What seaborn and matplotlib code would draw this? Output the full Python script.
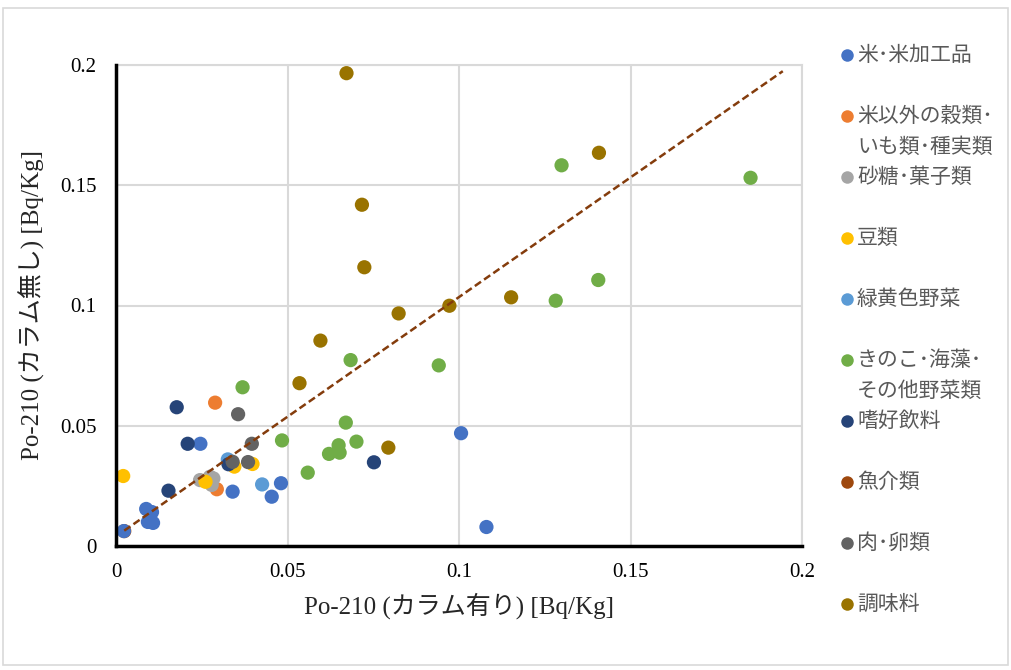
import numpy as np
import pandas as pd
import matplotlib
matplotlib.use("Agg")
import matplotlib.pyplot as plt
from matplotlib.lines import Line2D
from matplotlib.patches import Rectangle
import seaborn as sns

# Food groups, in legend order
categories = [
    "米･米加工品",
    "米以外の穀類･\nいも類･種実類",
    "砂糖･菓子類",
    "豆類",
    "緑黄色野菜",
    "きのこ･海藻･\nその他野菜類",
    "嗜好飲料",
    "魚介類",
    "肉･卵類",
    "調味料",
]
colors = ["#4472C4", "#ED7D31", "#A5A5A5", "#FFC000", "#5B9BD5",
          "#70AD47", "#264478", "#9E480E", "#636363", "#997300"]

# Po-210 with column (x) / without column (y), Bq/Kg
rice_x = [0.0023, 0.0088, 0.0105, 0.0093, 0.0108, 0.0246, 0.0340, 0.0481, 0.0454, 0.1006, 0.1080]
rice_y = [0.0062, 0.0154, 0.0141, 0.0100, 0.0096, 0.0425, 0.0226, 0.0261, 0.0205, 0.0469, 0.0079]
grain_x = [0.0289, 0.0294]
grain_y = [0.0596, 0.0236]
sugar_x = [0.0245, 0.0274, 0.0279, 0.0284]
sugar_y = [0.0274, 0.0288, 0.0254, 0.0281]
bean_x = [0.0021, 0.0261, 0.0345, 0.0398]
bean_y = [0.0291, 0.0267, 0.0330, 0.0341]
gyveg_x = [0.0326, 0.0426]
gyveg_y = [0.0360, 0.0256]
veg_x = [0.0369, 0.0484, 0.0559, 0.0684, 0.0941, 0.0670, 0.0701, 0.0649, 0.0621, 0.0652,
         0.1299, 0.1406, 0.1282, 0.1850]
veg_y = [0.0660, 0.0439, 0.0305, 0.0773, 0.0751, 0.0513, 0.0434, 0.0419, 0.0383, 0.0388,
         0.1583, 0.1106, 0.1020, 0.1531]
drink_x = [0.0177, 0.0209, 0.0328, 0.0153, 0.0752]
drink_y = [0.0577, 0.0425, 0.0340, 0.0230, 0.0348]
fish_x = [0.0024]
fish_y = [0.0062]
meat_x = [0.0356, 0.0396, 0.0340, 0.0385]
meat_y = [0.0548, 0.0425, 0.0350, 0.0349]
season_x = [0.0672, 0.0717, 0.0724, 0.0824, 0.0972, 0.0596, 0.0535, 0.0794, 0.1152, 0.1408]
season_y = [0.1966, 0.1419, 0.1159, 0.0967, 0.0999, 0.0854, 0.0677, 0.0409, 0.1034, 0.1635]

# Linear trend line
trend_slope = 0.995
trend_intercept = 0.004
trend_x_range = [0.0024, 0.1944]

# Axis ticks
ticks = [0, 0.05, 0.1, 0.15, 0.2]
tick_labels = ["0", "0.05", "0.1", "0.15", "0.2"]

series_x = [rice_x, grain_x, sugar_x, bean_x, gyveg_x, veg_x, drink_x, fish_x, meat_x, season_x]
series_y = [rice_y, grain_y, sugar_y, bean_y, gyveg_y, veg_y, drink_y, fish_y, meat_y, season_y]

# Fish series is drawn first so that it sits beneath the rest
draw_order = [7, 0, 1, 2, 3, 4, 5, 6, 8, 9]
frames = []
for i in draw_order:
    frames.append(pd.DataFrame({"x": series_x[i], "y": series_y[i], "group": categories[i]}))
df = pd.concat(frames, ignore_index=True)
palette = dict(zip(categories, colors))

sns.set_theme(style="white")
jp = "Noto Sans CJK JP"
serif_jp = ["Liberation Serif", jp]

fig = plt.figure(figsize=(10.11, 6.70), dpi=100)
fig.patch.set_facecolor("white")
ax = fig.add_axes([116 / 1011, 1 - 546 / 670, (802 - 116) / 1011, (546 - 65) / 670])

# Grid
ax.set_axisbelow(True)
ax.grid(True, color="#D9D9D9", linewidth=1.5)

sns.scatterplot(data=df, x="x", y="y", hue="group", palette=palette,
                hue_order=categories, s=105, edgecolor="none", linewidth=0,
                legend=False, ax=ax, zorder=3)

tx = np.array(trend_x_range)
ax.plot(tx, trend_slope * tx + trend_intercept, color="#843C0C", linewidth=1.8,
        dashes=(3, 1.5), zorder=4)

ax.set_xlim(0, 0.2)
ax.set_ylim(0, 0.2)
ax.set_xticks(ticks)
ax.set_yticks(ticks)
ax.set_xticklabels(tick_labels, family="Liberation Serif", fontsize=15, color="#000000")
ax.set_yticklabels(tick_labels, family="Liberation Serif", fontsize=15, color="#000000")
ax.tick_params(axis="x", length=0, pad=12)
ax.tick_params(axis="y", length=0, pad=14)

for side in ["top", "right"]:
    ax.spines[side].set_color("#D9D9D9")
    ax.spines[side].set_linewidth(1.5)
for side in ["left", "bottom"]:
    ax.spines[side].set_color("#000000")
    ax.spines[side].set_linewidth(2.5)
    ax.spines[side].set_zorder(5)

ax.set_xlabel("Po-210 (カラム有り) [Bq/Kg]", family=serif_jp, fontsize=18, labelpad=8)
ax.set_ylabel("Po-210 (カラム無し) [Bq/Kg]", family=serif_jp, fontsize=18, labelpad=11)

# Legend on the right
W, H = 1011, 670
for i, (lab, col) in enumerate(zip(categories, colors)):
    yc = 55 + i * 61.0
    fig.add_artist(Line2D([847 / W], [1 - yc / H], marker="o", markersize=9,
                          color=col, markeredgewidth=0, linestyle="none",
                          transform=fig.transFigure))
    fig.text(857 / W, 1 - (yc - 11) / H, lab, family=jp, fontsize=15,
             color="#595959", ha="left", va="top", linespacing=1.55)

# Outer frame
fig.add_artist(Rectangle((3 / W, 5 / H), 1 - 6 / W, 1 - 13 / H, transform=fig.transFigure,
                         fill=False, edgecolor="#D9D9D9", linewidth=1.2))

fig.savefig("out.png", dpi=100, facecolor="white")
